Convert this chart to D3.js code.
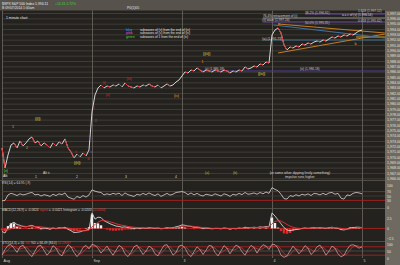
<!DOCTYPE html>
<html><head><meta charset="utf-8">
<script src="https://cdn.jsdelivr.net/npm/d3@7"></script>
<style>
html,body{margin:0;padding:0;background:#24221f;overflow:hidden;}
svg{display:block;font-family:"Liberation Sans",Arial,sans-serif;}
</style></head><body>
<svg id="c" width="400" height="265"></svg>
<script>
// ---------------- DATA ----------------
const sessionLabels = ["Aug","Sep","3","4","5"];
const sessionIdx = [0,30,60,90,120];
const priceTicks = [1966,1967,1968,1969,1970,1971,1972,1973,1974,1975,1976,1977,1978,1979,1980,1981,1982,1983,1984,1985,1986,1987,1988,1989,1990,1991,1992,1993,1994,1995,1996,1997];
const price = [
 1971.69,1967.94,1970.38,1972.25,1972.63,1971.69,1973.00,1972.06,1972.63,1973.38,
 1973.75,1972.63,1973.00,1972.06,1972.63,1972.25,1971.69,1972.63,1972.06,1972.81,
 1972.44,1973.38,1971.69,1970.94,1969.81,1970.56,1970.00,1970.75,1970.19,1971.31,
 1978.44,1981.63,1982.94,1983.50,1982.94,1983.31,1983.13,1983.50,1983.31,1983.69,
 1983.13,1983.88,1983.31,1983.13,1982.94,1983.31,1983.13,1983.50,1983.31,1983.69,
 1983.31,1983.13,1983.50,1982.94,1983.31,1983.69,1983.31,1983.50,1984.06,1984.44,
 1985.19,1985.94,1985.75,1986.31,1986.13,1986.69,1986.31,1985.94,1986.31,1986.13,
 1985.94,1986.31,1986.13,1985.94,1986.31,1986.13,1985.75,1986.13,1985.94,1986.31,
 1986.13,1986.88,1986.50,1986.69,1987.06,1986.88,1987.44,1987.25,1987.81,1987.63,
 1992.88,1993.81,1994.19,1993.25,1991.00,1990.06,1990.63,1990.44,1990.81,1990.63,
 1991.19,1991.00,1991.38,1991.19,1991.56,1991.75,1991.56,1991.94,1991.75,1992.13,
 1992.50,1992.31,1992.69,1992.50,1992.88,1992.69,1993.06,1992.88,1993.25,1993.63,1993.81
];
const rsi = [
 28,30,55,62,58,52,60,55,58,63,66,55,58,50,56,53,48,58,52,60,
 56,64,45,40,35,48,42,52,45,55,78,72,68,66,55,60,56,62,58,63,
 52,64,56,52,48,58,54,62,56,64,57,52,60,48,55,62,54,58,66,68,
 70,66,56,64,55,62,54,50,58,55,52,60,55,50,60,56,48,58,54,62,
 56,66,58,60,64,58,66,60,68,62,88,80,74,58,38,36,52,48,56,50,
 58,54,60,52,62,60,55,62,56,64,66,58,62,40,36,55,52,62,66,64,60
];
const macd = [
 -0.8,-1.2,0.2,1.2,1.6,1.0,0.8,0.5,0.4,0.6,0.8,0.4,0.3,0.0,0.1,0.0,-0.2,0.1,-0.1,0.2,
 0.1,0.3,-0.2,-0.6,-1.1,-1.0,-0.9,-0.6,-0.5,-0.2,4.0,2.4,2.9,2.8,2.0,1.6,1.2,0.9,0.6,0.5,
 0.3,0.4,0.2,0.1,0.0,0.1,0.0,0.1,0.0,0.2,0.1,0.0,0.1,-0.1,0.0,0.2,0.1,0.2,0.4,0.6,
 0.9,0.8,0.6,0.5,0.3,0.3,0.2,0.0,0.1,0.0,-0.1,0.0,0.0,-0.1,0.1,0.0,-0.2,0.0,-0.1,0.1,
 0.0,0.3,0.2,0.2,0.3,0.2,0.4,0.3,0.5,0.4,4.0,3.2,2.2,1.2,0.2,-0.4,-0.6,-0.4,-0.3,-0.2,
 0.0,0.1,0.0,0.1,0.2,0.1,0.2,0.1,0.0,0.2,0.3,0.1,0.0,-0.3,-0.4,-0.2,0.1,0.2,0.3,0.3,0.2
];
const signal = [
 -0.3,-0.5,-0.4,-0.1,0.3,0.5,0.6,0.6,0.5,0.5,0.6,0.5,0.5,0.4,0.3,0.2,0.1,0.1,0.0,0.1,
 0.1,0.1,0.1,-0.1,-0.3,-0.5,-0.6,-0.6,-0.6,-0.5,0.4,1.0,1.6,2.0,2.0,1.9,1.7,1.5,1.2,1.0,
 0.8,0.7,0.5,0.4,0.3,0.2,0.2,0.1,0.1,0.1,0.1,0.1,0.1,0.0,0.0,0.1,0.1,0.1,0.2,0.3,
 0.5,0.6,0.6,0.6,0.5,0.4,0.3,0.2,0.2,0.1,0.0,0.0,0.0,0.0,0.0,0.0,0.0,0.0,0.0,0.0,
 0.0,0.1,0.1,0.2,0.2,0.2,0.3,0.3,0.3,0.4,1.2,1.8,2.0,1.9,1.5,1.0,0.6,0.3,0.1,0.0,
 -0.1,0.0,0.0,0.0,0.1,0.1,0.1,0.1,0.1,0.1,0.2,0.2,0.1,0.0,-0.2,-0.2,-0.1,0.0,0.1,0.2,0.2
];
const stochK = [
 20,60,90,95,70,40,80,92,60,30,10,50,85,90,55,20,45,88,70,30,
 15,60,95,80,40,10,35,75,90,65,98,90,70,35,60,85,50,20,55,90,
 75,30,10,40,80,92,60,25,50,85,70,30,15,55,90,95,60,20,40,85,
 92,70,30,10,45,80,60,25,55,90,85,40,15,50,88,70,30,65,92,80,
 45,20,60,90,75,35,70,95,85,60,98,95,70,20,5,15,50,85,60,30,
 55,88,70,25,45,80,92,60,20,50,85,70,30,8,20,60,90,95,85,70,80
];
const stochD = [
 30,40,57,82,85,68,63,71,77,61,33,30,48,75,77,55,40,51,68,63,
 38,35,57,78,72,43,28,40,67,77,84,84,86,65,55,60,65,52,42,55,
 73,65,38,27,43,71,77,59,45,53,68,62,38,33,53,80,82,58,40,48,
 72,82,64,37,28,45,62,55,47,57,77,72,47,35,51,69,63,55,62,79,
 72,48,42,57,75,67,60,67,83,80,81,84,88,62,32,13,23,50,65,58,
 48,58,71,61,47,50,72,77,57,43,52,68,62,36,19,29,57,82,90,83,78
];
const levelPrices = [1986.13, 1991.94, 1995.31, 1996.06, 1996.81, 1992.50];
const levelStart  = [66, 87, 87, 87, 101, 118];
const levelColors = ["#4c3d8e","#3d6f8e","#6a4c9c","#8c8c8c","#6a4c9c","#c9a227"];
const trendLines = [
 {i0:92, p0:1994.94, i1:127.6, p1:1993.25, color:"#c47c22"},
 {i0:92, p0:1989.50, i1:127.6, p1:1993.06, color:"#c47c22"},
 {i0:90.5, p0:1994.75, i1:127.6, p1:1992.31, color:"#3f74a0"}
];
const notes = [
 {i:87, p:1996.44, t:"76.4% retracement of (i)", c:"#d8d8d8"},
 {i:86.7, p:1995.69, t:"(v) wave (1,997.24)", c:"#cfcfcf"},
 {i:101, p:1997.09, t:"38.2% (1,996.92)", c:"#c8c8c8"},
 {i:101, p:1995.13, t:"50.0% (1,995.35)", c:"#c8c8c8"},
 {i:113.3, p:1996.72, t:"a = c of (v) (1,996.54)", c:"#d8d8d8"},
 {i:118.7, p:1997.35, t:"1.618 (1,997.12)", c:"#c8c8c8"},
 {i:118.7, p:1995.50, t:"0.618 (1,995.62)", c:"#c8c8c8"},
 {i:86.7, p:1992.22, t:"(iv) (1,991.73)", c:"#c8c8c8"},
 {i:67.7, p:1986.50, t:"(ii) (1,986.18)", c:"#c8c8c8"},
 {i:99.3, p:1986.50, t:"(iii) (1,986.18)", c:"#c8c8c8"}
];
const waveLabels = [
 {i:0.6, p:1967.5, t:"(v)", c:"#3fc23f"},
 {i:0.3, p:1966.5, t:"Alt", c:"#d0d0d0"},
 {i:11, p:1977.1, t:"((i))", c:"#c9b43a"},
 {i:3.3, p:1975.6, t:"1", c:"#e07a20"},
 {i:8, p:1971.8, t:"2", c:"#b07a40"},
 {i:24, p:1968.9, t:"((ii))", c:"#c9b43a"},
 {i:24.5, p:1970.9, t:"i", c:"#c03030"},
 {i:28.5, p:1969.6, t:"ii", c:"#c03030"},
 {i:29, p:1973.4, t:"iii", c:"#6a3fb0"},
 {i:29.3, p:1970.9, t:"iv", c:"#6a3fb0"},
 {i:30.3, p:1979.2, t:"1", c:"#6a3fb0"},
 {i:31, p:1976.8, t:"2", c:"#6a3fb0"},
 {i:33.5, p:1983.9, t:"(i)", c:"#b02828"},
 {i:34.5, p:1981.7, t:"(ii)", c:"#b02828"},
 {i:41.5, p:1984.6, t:"(iii)", c:"#b02828"},
 {i:57.3, p:1981.4, t:"(iv)", c:"#d07a22"},
 {i:67, p:1989.3, t:"((iii))", c:"#c9b43a"},
 {i:66.5, p:1987.9, t:"1", c:"#d07a22"},
 {i:85.3, p:1985.6, t:"((iv))", c:"#c9b43a"},
 {i:92, p:1995.0, t:"a", c:"#d07a22"},
 {i:117.5, p:1991.2, t:"b", c:"#d07a22"}
];
const bottomNotes = [
 {i:11, t:"1", c:"#d8d8d8", row:1},
 {i:13.7, t:"Alt ii", c:"#d8d8d8", row:0},
 {i:24.7, t:"2", c:"#d8d8d8", row:1},
 {i:41, t:"3", c:"#d8d8d8", row:1},
 {i:57.7, t:"4", c:"#d8d8d8", row:1},
 {i:67.7, t:"(a)", c:"#c9b43a", row:0},
 {i:77, t:"(b)", c:"#b7b83a", row:0}
];
const commentLines = ["(or some other dipping firstly something)","impulse runs higher"];
const legendKeys = ["blue","pink","green"];
const legendColors = ["#3a7fd8","#d040c8","#34b834"];
const legendTexts = ["subwaves of (v) from the end of (iv)","subwaves of (c) from the end of (iv)","subwaves of 1 from the end of (iv)"];
const rsiTicks = [100,70,50,30,0];
const macdTicks = [2.5,0,-2.5];
const stochTicks = [100,50,0];

// ---------------- LAYOUT ----------------
const svg = d3.select("#c");
const PL = 2, PRt = 385;
const x = d3.scaleLinear().domain([0,120]).range([2,362]);
const yP = d3.scaleLinear().domain([1966,1997]).range([178.3,13]);
const yR = d3.scaleLinear().domain([0,100]).range([207,185]);
const yM = d3.scaleLinear().domain([-3,4.5]).range([240,211]);
const yS = d3.scaleLinear().domain([0,100]).range([258,244]);
const FS = 3.4;

svg.append("rect").attr("width",400).attr("height",265).attr("fill","#24221f");
svg.append("rect").attr("width",400).attr("height",10.5).attr("fill","#57534c");
svg.append("rect").attr("x",PRt).attr("y",10.5).attr("width",15).attr("height",254.5).attr("fill","#6f6a61");

// price grid + right labels
const ga = svg.append("g").attr("transform",`translate(${PRt},0)`)
  .call(d3.axisRight(yP).tickValues(priceTicks).tickSize(-(PRt-PL)).tickPadding(2).tickFormat(d3.format(",.2f")));
ga.select(".domain").remove();
ga.selectAll("line").attr("stroke","#46433d").attr("stroke-width",0.8);
ga.selectAll("text").attr("fill","#e6e2da").attr("font-size",3.6).attr("font-family","Liberation Sans, Arial");

// session vertical lines + bottom labels
const xa = svg.append("g").attr("transform","translate(0,258)")
  .call(d3.axisBottom(x).tickValues(sessionIdx).tickSize(-(258-10.5)).tickPadding(1.5).tickFormat((d,i)=>sessionLabels[i]));
xa.select(".domain").remove();
xa.selectAll("line").attr("stroke","#6c6861").attr("stroke-width",0.8);
xa.selectAll("text").attr("fill","#d8d4cc").attr("font-size",3.6).attr("text-anchor","start").attr("dx",1);

// panel separators
[180.5,208.5,241.5].forEach(yy=>{
  svg.append("line").attr("x1",0).attr("x2",PRt).attr("y1",yy).attr("y2",yy).attr("stroke","#5c5850").attr("stroke-width",0.8);
});

// level lines
levelPrices.forEach((p,k)=>{
  svg.append("line").attr("x1",x(levelStart[k])).attr("x2",PRt).attr("y1",yP(p)).attr("y2",yP(p))
    .attr("stroke",levelColors[k]).attr("stroke-width",1);
});
// trend lines
trendLines.forEach(t=>{
  svg.append("line").attr("x1",x(t.i0)).attr("y1",yP(t.p0)).attr("x2",x(t.i1)).attr("y2",yP(t.p1))
    .attr("stroke",t.color).attr("stroke-width",1);
});

// price line
const line = d3.line().x((d,i)=>x(i)).y(d=>yP(d));
svg.append("path").datum(price).attr("d",line).attr("fill","none").attr("stroke","#e8e8e8").attr("stroke-width",0.9);
price.forEach((p,i)=>{
  if(i<price.length-1 && price[i+1]<p){
    svg.append("line").attr("x1",x(i)).attr("y1",yP(p)).attr("x2",x(i+1)).attr("y2",yP(price[i+1]))
      .attr("stroke","#e03434").attr("stroke-width",1);
  }
});

// notes
notes.forEach(n=>{
  svg.append("text").attr("x",x(n.i)).attr("y",yP(n.p)+1.2).attr("fill",n.c).attr("font-size",3.2).text(n.t);
});
waveLabels.forEach(n=>{
  svg.append("text").attr("x",x(n.i)).attr("y",yP(n.p)+1.2).attr("fill",n.c).attr("font-size",3.4).attr("font-weight","bold").text(n.t);
});
bottomNotes.forEach(n=>{
  svg.append("text").attr("x",x(n.i)).attr("y",n.row?177.5:174).attr("fill",n.c).attr("font-size",3.4).text(n.t);
});
commentLines.forEach((t,k)=>{
  svg.append("text").attr("x",x(99.3)).attr("y",174+k*4.2).attr("text-anchor","middle").attr("fill","#d8d8d8").attr("font-size",3.4).text(t);
});

// header
svg.append("text").attr("x",2).attr("y",4.5).attr("fill","#eeeeee").attr("font-size",FS).text("$SPX S&P 500 Index   1,994.11");
svg.append("text").attr("x",55).attr("y",4.5).attr("fill","#3ad13a").attr("font-size",FS).text("+14.41   0.72%");
svg.append("text").attr("x",2).attr("y",9).attr("fill","#e0e0e0").attr("font-size",FS).text("B 09/07/2014  1:00am");
svg.append("text").attr("x",127).attr("y",9).attr("fill","#e0e0e0").attr("font-size",FS).text("P0(1)05");
svg.append("text").attr("x",6).attr("y",18.5).attr("fill","#e8e8e8").attr("font-size",FS).text("1 minute chart");

// legend
legendKeys.forEach((k,j)=>{
  svg.append("text").attr("x",126).attr("y",31+j*3.3).attr("fill",legendColors[j]).attr("font-size",3.2).attr("font-weight","bold").text(k);
  svg.append("text").attr("x",140).attr("y",31+j*3.3).attr("fill","#e0e0e0").attr("font-size",3.2).text(legendTexts[j]);
});

// ---------- RSI panel ----------
svg.append("text").attr("x",2).attr("y",184).attr("fill","#d8d8d8").attr("font-size",3.2).text("RSI(14) = 64.95 (-9)");
[70,30].forEach(v=>svg.append("line").attr("x1",PL).attr("x2",PRt).attr("y1",yR(v)).attr("y2",yR(v)).attr("stroke","#a82020").attr("stroke-width",0.9));
svg.append("line").attr("x1",PL).attr("x2",PRt).attr("y1",yR(50)).attr("y2",yR(50)).attr("stroke","#46433d").attr("stroke-width",0.7);
svg.append("path").datum(rsi).attr("d",d3.line().x((d,i)=>x(i)).y(d=>yR(d))).attr("fill","none").attr("stroke","#d6d6d6").attr("stroke-width",0.8);
const ra = svg.append("g").attr("transform",`translate(${PRt},0)`).call(d3.axisRight(yR).tickValues(rsiTicks).tickSize(0).tickPadding(2));
ra.select(".domain").remove();
ra.selectAll("text").attr("fill","#e6e2da").attr("font-size",3.4);

// ---------- MACD panel ----------
const mt = svg.append("text").attr("x",2).attr("y",211).attr("font-size",3.2);
mt.append("tspan").attr("fill","#d8d8d8").text("MACD(12,26,9) = -0.0624 ");
mt.append("tspan").attr("fill","#e03434").text("signal ");
mt.append("tspan").attr("fill","#d8d8d8").text("= -0.0421 histogram = -0.0203 ");
mt.append("tspan").attr("fill","#e03434").text("(-0.0203)");
svg.append("line").attr("x1",PL).attr("x2",PRt).attr("y1",yM(0)).attr("y2",yM(0)).attr("stroke","#b02020").attr("stroke-width",0.9);
svg.append("g").selectAll("rect").data(macd).join("rect")
  .attr("x",(d,i)=>x(i)-1.2).attr("width",2.4)
  .attr("y",(d,i)=>Math.min(yM(d-signal[i]),yM(0)))
  .attr("height",(d,i)=>Math.abs(yM(d-signal[i])-yM(0)))
  .attr("fill",(d,i)=>d-signal[i]>=0?"#f0f0f0":"#e02a2a");
svg.append("path").datum(macd).attr("d",d3.line().x((d,i)=>x(i)).y(d=>yM(d))).attr("fill","none").attr("stroke","#e6e6e6").attr("stroke-width",0.8);
svg.append("path").datum(signal).attr("d",d3.line().x((d,i)=>x(i)).y(d=>yM(d))).attr("fill","none").attr("stroke","#e03434").attr("stroke-width",0.9);
const ma = svg.append("g").attr("transform",`translate(${PRt},0)`).call(d3.axisRight(yM).tickValues(macdTicks).tickSize(0).tickPadding(2).tickFormat(d3.format("")));
ma.select(".domain").remove();
ma.selectAll("text").attr("fill","#e6e2da").attr("font-size",3.4);

// ---------- Stochastic panel ----------
const st = svg.append("text").attr("x",2).attr("y",244).attr("font-size",3.2);
st.append("tspan").attr("fill","#d8d8d8").text("STO(14,3) = 50 ");
st.append("tspan").attr("fill","#e03434").text("%K ");
st.append("tspan").attr("fill","#d8d8d8").text("%D = 66.49 (84.0) ");
st.append("tspan").attr("fill","#e03434").text("55.29097");
[80,20].forEach(v=>svg.append("line").attr("x1",PL).attr("x2",PRt).attr("y1",yS(v)).attr("y2",yS(v)).attr("stroke","#a82020").attr("stroke-width",0.9));
svg.append("line").attr("x1",PL).attr("x2",PRt).attr("y1",yS(50)).attr("y2",yS(50)).attr("stroke","#5a5650").attr("stroke-width",0.7);
svg.append("path").datum(stochD).attr("d",d3.line().x((d,i)=>x(i)).y(d=>yS(d))).attr("fill","none").attr("stroke","#b83a3a").attr("stroke-width",0.8);
svg.append("path").datum(stochK).attr("d",d3.line().x((d,i)=>x(i)).y(d=>yS(d))).attr("fill","none").attr("stroke","#e8aaaa").attr("stroke-width",0.7);
const sa = svg.append("g").attr("transform",`translate(${PRt},0)`).call(d3.axisRight(yS).tickValues(stochTicks).tickSize(0).tickPadding(2));
sa.select(".domain").remove();
sa.selectAll("text").attr("fill","#e6e2da").attr("font-size",3.4);
</script>
</body></html>
